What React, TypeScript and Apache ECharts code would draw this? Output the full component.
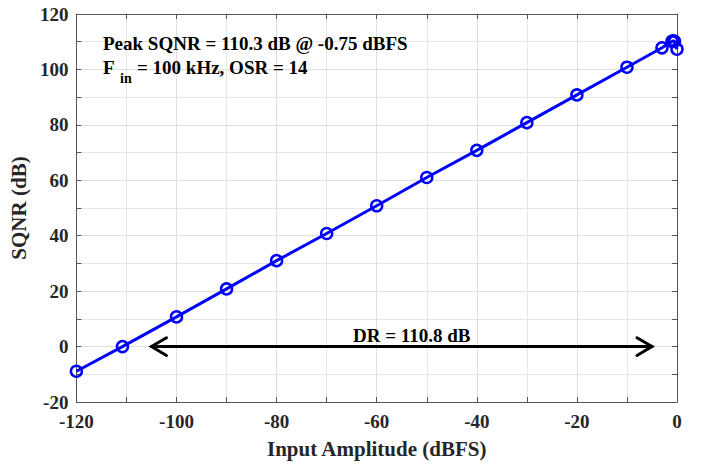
import React, { useEffect, useRef } from "react";
import * as echarts from "echarts";

const inputDbfs = [-120, -110.8, -100, -90, -80, -70, -60, -50, -40, -30, -20, -10, -3, -1, -0.75, -0.5, 0];
const sqnrDb = [-8.9, 0, 10.7, 20.8, 31.0, 40.8, 50.8, 61.0, 70.8, 80.8, 90.8, 100.8, 107.8, 110.1, 110.3, 110.1, 107.3];

const xTicks = [-120, -100, -80, -60, -40, -20, 0];
const yTicks = [-20, 0, 20, 40, 60, 80, 100, 120];

const drArrowStart = -105;
const drArrowEnd = -5;
const drLevel = 0;
const headLen = 3;
const headHalf = 3.2;

const peakText = "Peak SQNR = 110.3 dB @ -0.75 dBFS";
const finMain = "F";
const finSub = "in";
const finRest = "= 100 kHz, OSR = 14";
const drText = "DR = 110.8 dB";
const xName = "Input Amplitude (dBFS)";
const yName = "SQNR (dB)";

const FONT = "'Liberation Serif', 'Times New Roman', Times, serif";
const INK = "#262626";

export default function App() {
  const ref = useRef<HTMLDivElement>(null);
  useEffect(() => {
    if (!ref.current) return;
    const chart = echarts.init(ref.current, undefined, { renderer: "svg", width: 702, height: 464 });
    const labelStyle = { fontFamily: FONT, fontWeight: "bold" as const, fontSize: 19, color: INK };
    const axisBase = (min: number, max: number, interval: number) => ({
      type: "value" as const,
      min,
      max,
      interval,
      axisLine: { show: true, onZero: false, lineStyle: { color: "#555", width: 1 } },
      axisTick: { show: true, inside: true, length: 5, lineStyle: { color: "#555" } },
      minorTick: { show: true, splitNumber: 2, length: 5, lineStyle: { color: "#555" } },
    });
    const data = inputDbfs.map((x, i) => [x, sqnrDb[i]]);
    const arrowColor = "#000";
    const arrowSeries = [
      [[drArrowStart, drLevel], [drArrowEnd, drLevel]],
      [[drArrowStart + headLen, drLevel + headHalf], [drArrowStart, drLevel], [drArrowStart + headLen, drLevel - headHalf]],
      [[drArrowEnd - headLen, drLevel + headHalf], [drArrowEnd, drLevel], [drArrowEnd - headLen, drLevel - headHalf]],
    ].map((d) => ({
      type: "line" as const,
      data: d,
      symbol: "none",
      silent: true,
      lineStyle: { color: arrowColor, width: 3, cap: "round" as const, join: "miter" as const },
      z: 3,
    }));

    chart.setOption({
      animation: false,
      backgroundColor: "#fff",
      grid: { left: 76, right: 25, top: 14, bottom: 52, containLabel: false },
      xAxis: [
        {
          ...axisBase(xTicks[0], xTicks[xTicks.length - 1], 20),
          position: "bottom",
          name: xName,
          nameLocation: "middle",
          nameGap: 36,
          nameTextStyle: { fontFamily: FONT, fontWeight: "bold", fontSize: 21, color: INK },
          axisLabel: { ...labelStyle, margin: 10 },
          splitLine: { show: true, lineStyle: { color: "#dedede", width: 1 } },
          minorSplitLine: { show: true, lineStyle: { color: "#e6e6e6", width: 1 } },
        },
        {
          ...axisBase(xTicks[0], xTicks[xTicks.length - 1], 20),
          position: "top",
          axisLabel: { show: false },
          splitLine: { show: false },
        },
      ],
      yAxis: [
        {
          ...axisBase(yTicks[0], yTicks[yTicks.length - 1], 20),
          position: "left",
          name: yName,
          nameLocation: "middle",
          nameGap: 41,
          nameRotate: 90,
          nameTextStyle: { fontFamily: FONT, fontWeight: "bold", fontSize: 21, color: INK },
          axisLabel: { ...labelStyle, margin: 8 },
          splitLine: { show: true, lineStyle: { color: "#dedede", width: 1 } },
          minorSplitLine: { show: true, lineStyle: { color: "#e6e6e6", width: 1 } },
        },
        {
          ...axisBase(yTicks[0], yTicks[yTicks.length - 1], 20),
          position: "right",
          axisLabel: { show: false },
          splitLine: { show: false },
        },
      ],
      series: [
        ...arrowSeries,
        {
          type: "line",
          data,
          symbol: "circle",
          symbolSize: 11,
          showAllSymbol: true,
          lineStyle: { color: "#0000ff", width: 3 },
          itemStyle: { color: "rgba(0,0,0,0)", borderColor: "#0000ff", borderWidth: 2.5 },
          z: 5,
        },
      ],
      graphic: [
        { type: "text", z: 100, left: 103, top: 34, style: { text: peakText, font: `bold 19px ${FONT}`, fill: "#000" } },
        { type: "text", z: 100, left: 103, top: 58, style: { text: finMain, font: `bold 19px ${FONT}`, fill: "#000" } },
        { type: "text", z: 100, left: 120, top: 71, style: { text: finSub, font: `bold 14px ${FONT}`, fill: "#000" } },
        { type: "text", z: 100, left: 137, top: 58, style: { text: finRest, font: `bold 19px ${FONT}`, fill: "#000" } },
        { type: "text", z: 100, left: 353, top: 326, style: { text: drText, font: `bold 19px ${FONT}`, fill: "#000" } },
      ],
    });
    return () => chart.dispose();
  }, []);
  return <div ref={ref} style={{ position: "fixed", left: 0, top: 0, width: 702, height: 464 }} />;
}
